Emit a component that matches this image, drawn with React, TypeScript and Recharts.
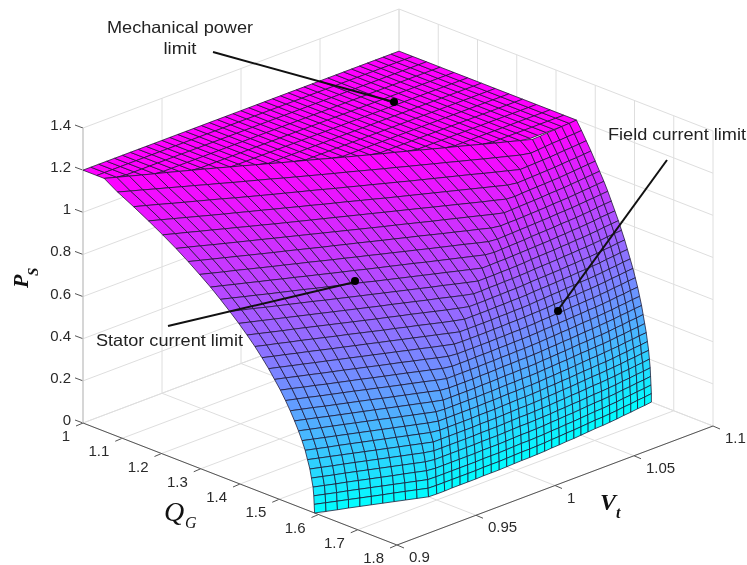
import React from "react";
import { ScatterChart, Scatter, XAxis, YAxis } from "recharts";

// Terminal voltage of each mesh column
const vtValues = [0.9,0.905,0.91,0.915,0.92,0.925,0.93,0.935,0.94,0.945,0.95,0.955,0.96,0.965,0.97,0.975,0.98,0.985,0.99,0.995,1,1.005,1.01,1.015,1.02,1.025,1.03,1.035,1.04,1.045,1.05,1.055,1.06,1.065,1.07,1.075,1.08,1.085,1.09,1.095,1.1];
// Active power of each mesh row on the capability faces
const psValues = [0,0.04,0.08,0.12,0.16,0.2,0.24,0.28,0.32,0.36,0.4,0.44,0.48,0.52,0.56,0.6,0.64,0.68,0.72,0.76,0.8,0.84,0.88,0.92,0.96,1,1.04,1.08,1.12,1.16,1.2];
// QG (thousandths) read per row (psValues) and column (vtValues)
const qgMilli = [
[1590,1599,1608,1616,1625,1634,1643,1652,1661,1670,1679,1680,1680,1679,1679,1679,1679,1678,1678,1678,1677,1676,1675,1675,1674,1673,1671,1670,1668,1667,1665,1663,1661,1660,1658,1656,1653,1651,1648,1646,1643],
[1589,1598,1607,1616,1625,1634,1643,1651,1660,1669,1678,1679,1679,1679,1679,1679,1679,1678,1678,1678,1677,1676,1675,1675,1674,1673,1671,1670,1668,1667,1665,1663,1661,1660,1658,1656,1653,1651,1648,1646,1643],
[1588,1597,1606,1614,1623,1632,1641,1650,1659,1668,1677,1678,1678,1678,1678,1678,1678,1677,1677,1677,1676,1675,1674,1674,1673,1672,1670,1669,1667,1666,1664,1662,1660,1659,1657,1655,1652,1650,1647,1645,1642],
[1586,1595,1604,1612,1621,1630,1639,1648,1656,1665,1674,1677,1677,1677,1677,1677,1677,1676,1676,1676,1675,1674,1673,1673,1672,1671,1669,1668,1666,1665,1663,1661,1659,1658,1656,1654,1651,1649,1646,1644,1641],
[1582,1591,1600,1608,1617,1626,1635,1644,1653,1662,1671,1675,1675,1675,1675,1675,1675,1674,1674,1674,1673,1672,1671,1671,1670,1669,1668,1666,1665,1663,1662,1660,1658,1657,1655,1653,1650,1648,1645,1643,1640],
[1578,1587,1596,1604,1613,1622,1631,1640,1649,1658,1667,1673,1673,1673,1673,1673,1673,1672,1672,1672,1671,1670,1669,1669,1668,1667,1666,1664,1663,1661,1660,1658,1656,1655,1653,1651,1648,1646,1643,1641,1638],
[1572,1581,1590,1599,1608,1617,1626,1635,1644,1653,1662,1671,1671,1671,1671,1671,1671,1670,1670,1670,1669,1668,1667,1667,1666,1665,1663,1662,1660,1659,1657,1655,1653,1652,1650,1648,1646,1643,1641,1638,1636],
[1566,1575,1584,1592,1601,1610,1619,1628,1637,1646,1655,1664,1668,1668,1668,1668,1668,1667,1667,1667,1666,1665,1664,1664,1663,1662,1660,1659,1657,1656,1654,1652,1651,1649,1648,1646,1643,1641,1638,1636,1633],
[1558,1567,1576,1585,1594,1603,1612,1621,1630,1639,1648,1657,1664,1664,1664,1664,1664,1664,1663,1663,1662,1661,1661,1660,1660,1659,1657,1656,1654,1653,1651,1649,1647,1646,1644,1642,1640,1637,1635,1632,1630],
[1549,1558,1567,1576,1585,1594,1603,1612,1622,1631,1640,1649,1658,1660,1660,1660,1660,1660,1659,1659,1658,1657,1657,1656,1656,1655,1653,1652,1650,1649,1647,1645,1644,1642,1641,1639,1636,1634,1631,1629,1626],
[1539,1548,1557,1567,1576,1585,1594,1603,1612,1621,1630,1639,1648,1656,1656,1656,1656,1656,1655,1655,1654,1653,1653,1652,1652,1651,1649,1648,1646,1645,1643,1641,1640,1638,1637,1635,1632,1630,1627,1625,1622],
[1528,1537,1546,1556,1565,1574,1583,1592,1602,1611,1620,1629,1638,1648,1651,1651,1651,1651,1650,1650,1649,1648,1648,1647,1647,1646,1645,1643,1642,1640,1639,1637,1635,1634,1632,1630,1628,1625,1623,1620,1618],
[1516,1525,1534,1544,1553,1562,1571,1581,1590,1600,1609,1618,1627,1637,1645,1645,1645,1645,1645,1644,1644,1643,1643,1642,1642,1641,1640,1638,1637,1635,1634,1632,1630,1629,1627,1625,1623,1620,1618,1615,1613],
[1503,1512,1522,1531,1541,1550,1559,1568,1578,1587,1596,1605,1615,1624,1634,1639,1639,1639,1638,1638,1638,1637,1637,1636,1636,1635,1634,1632,1631,1629,1628,1626,1625,1623,1622,1620,1618,1615,1613,1610,1608],
[1488,1497,1507,1516,1526,1535,1544,1554,1563,1573,1582,1591,1601,1610,1620,1629,1632,1632,1632,1632,1632,1631,1631,1630,1630,1629,1628,1626,1625,1623,1622,1620,1619,1617,1616,1614,1612,1609,1607,1604,1602],
[1473,1482,1492,1501,1511,1520,1530,1539,1549,1558,1568,1577,1587,1596,1606,1615,1624,1625,1625,1625,1625,1624,1624,1623,1623,1622,1621,1620,1619,1617,1616,1614,1613,1611,1610,1608,1606,1603,1601,1598,1596],
[1456,1466,1475,1485,1494,1504,1514,1523,1533,1542,1552,1561,1571,1580,1590,1599,1609,1618,1618,1618,1618,1618,1617,1617,1616,1616,1615,1613,1612,1610,1609,1607,1606,1604,1603,1601,1599,1596,1594,1591,1589],
[1438,1448,1457,1467,1476,1486,1496,1506,1515,1525,1535,1545,1554,1564,1573,1583,1593,1602,1610,1610,1610,1610,1609,1609,1608,1608,1607,1605,1604,1603,1602,1600,1599,1597,1596,1594,1592,1589,1587,1584,1582],
[1418,1428,1438,1448,1457,1467,1477,1487,1497,1507,1517,1527,1536,1546,1555,1565,1575,1585,1594,1602,1602,1602,1601,1601,1600,1600,1599,1597,1596,1595,1594,1593,1591,1590,1588,1587,1585,1582,1580,1577,1575],
[1397,1407,1417,1427,1437,1447,1457,1467,1477,1487,1497,1507,1517,1526,1536,1546,1556,1565,1575,1585,1593,1593,1592,1592,1591,1591,1590,1589,1587,1586,1585,1584,1582,1581,1579,1578,1576,1574,1571,1569,1567],
[1374,1384,1394,1405,1415,1425,1435,1445,1456,1466,1476,1486,1496,1506,1516,1526,1536,1546,1555,1565,1575,1584,1584,1584,1583,1583,1582,1581,1579,1578,1577,1576,1574,1573,1571,1570,1568,1566,1563,1561,1559],
[1350,1360,1371,1381,1392,1402,1412,1422,1433,1443,1453,1463,1473,1484,1494,1504,1514,1524,1534,1544,1554,1564,1574,1574,1573,1573,1572,1571,1570,1569,1568,1567,1565,1564,1562,1561,1559,1557,1554,1552,1550],
[1325,1335,1346,1356,1367,1377,1388,1398,1409,1419,1430,1440,1450,1461,1471,1481,1491,1501,1512,1522,1532,1542,1552,1562,1565,1564,1563,1562,1561,1559,1558,1557,1556,1554,1553,1552,1550,1548,1545,1543,1541],
[1297,1308,1319,1329,1340,1351,1362,1372,1383,1393,1404,1415,1425,1436,1446,1457,1467,1478,1488,1499,1509,1519,1529,1540,1550,1553,1552,1551,1550,1549,1548,1547,1546,1544,1543,1542,1540,1538,1536,1534,1532],
[1268,1279,1290,1301,1312,1323,1334,1345,1355,1366,1377,1388,1398,1409,1419,1430,1441,1451,1462,1472,1483,1494,1504,1515,1525,1536,1541,1540,1540,1539,1538,1537,1536,1534,1533,1532,1530,1528,1526,1524,1522],
[1237,1248,1259,1271,1282,1293,1304,1315,1326,1337,1348,1359,1370,1381,1392,1403,1414,1425,1435,1446,1457,1468,1478,1489,1499,1510,1521,1530,1529,1528,1527,1526,1525,1523,1522,1521,1519,1517,1515,1513,1511],
[1203,1215,1226,1238,1249,1261,1272,1284,1295,1307,1318,1329,1340,1351,1362,1373,1384,1395,1406,1417,1428,1439,1450,1461,1472,1483,1494,1504,1515,1517,1515,1514,1513,1512,1511,1510,1508,1506,1504,1502,1500],
[1167,1179,1191,1203,1215,1227,1239,1250,1262,1273,1285,1296,1308,1319,1331,1342,1353,1365,1376,1388,1399,1410,1421,1432,1443,1454,1465,1476,1487,1498,1503,1502,1501,1500,1499,1498,1496,1494,1493,1491,1489],
[1129,1141,1153,1166,1178,1190,1202,1214,1227,1239,1251,1263,1274,1286,1297,1309,1321,1332,1344,1355,1367,1378,1390,1401,1412,1423,1434,1445,1457,1468,1479,1490,1489,1488,1487,1486,1484,1482,1481,1479,1477],
[1088,1101,1113,1126,1138,1151,1163,1176,1188,1201,1213,1225,1237,1250,1262,1274,1286,1298,1309,1321,1333,1345,1356,1368,1379,1391,1402,1414,1425,1437,1448,1459,1470,1477,1475,1473,1471,1470,1468,1467,1465],
[1054,1066,1078,1090,1102,1113,1125,1137,1149,1161,1174,1186,1199,1211,1224,1236,1248,1260,1273,1285,1297,1309,1321,1332,1344,1356,1368,1380,1391,1403,1415,1427,1438,1450,1461,1460,1458,1457,1455,1454,1452],
];
// Plateau rows run at constant QG and stop at the crease
const plateauQg = [1,1.035,1.07,1.105,1.14,1.175,1.21,1.245,1.28,1.315,1.35,1.385,1.42,1.455];
const mechanicalLimit = 1.2;

const qgTicks = [1,1.1,1.2,1.3,1.4,1.5,1.6,1.7,1.8];
const vtTicks = [0.9,0.95,1,1.05,1.1];
const psTicks = [0,0.2,0.4,0.6,0.8,1,1.2,1.4];

// Orthographic view of the three axes
const toX = (q: number, v: number) => 83 + (q - 1) * 392.5 + (v - 0.9) * 1580;
const toY = (q: number, v: number, p: number) => 423 + (q - 1) * 152.5 - (v - 0.9) * 595 - p * 210.7;
const at = (q: number, v: number, p: number) => ({ x: toX(q, v), y: toY(q, v, p) });

const seg = (a: any, b: any, stroke: string, width = 1) => ({ x: a.x, y: a.y, dx: b.x - a.x, dy: b.y - a.y, stroke, width });

const GRID = "#dedede";
const AXIS = "#555555";
const gridSegs: any[] = [];
for (const p of psTicks) {
  gridSegs.push(seg(at(1, 0.9, p), at(1, 1.1, p), GRID));
  gridSegs.push(seg(at(1, 1.1, p), at(1.8, 1.1, p), GRID));
  gridSegs.push(seg(at(1, 0.9, p), { x: toX(1, 0.9) - 8, y: toY(1, 0.9, p) - 3 }, AXIS));
}
for (const q of qgTicks) {
  gridSegs.push(seg(at(q, 0.9, 0), at(q, 1.1, 0), GRID));
  gridSegs.push(seg(at(q, 1.1, 0), at(q, 1.1, 1.4), GRID));
  gridSegs.push(seg(at(q, 0.9, 0), { x: toX(q, 0.9) - 7, y: toY(q, 0.9, 0) + 3 }, AXIS));
}
for (const v of vtTicks) {
  gridSegs.push(seg(at(1, v, 0), at(1.8, v, 0), GRID));
  gridSegs.push(seg(at(1, v, 0), at(1, v, 1.4), GRID));
  gridSegs.push(seg(at(1.8, v, 0), { x: toX(1.8, v) + 7, y: toY(1.8, v, 0) + 3 }, AXIS));
}
gridSegs.push(seg(at(1, 0.9, 0), at(1, 0.9, 1.4), "#bdbdbd"));
gridSegs.push(seg(at(1, 0.9, 0), at(1.8, 0.9, 0), AXIS));
gridSegs.push(seg(at(1.8, 0.9, 0), at(1.8, 1.1, 0), AXIS));

// Cool colour map
const cool = (p: number) => {
  const t = Math.min(1, Math.max(0, p / mechanicalLimit));
  return `rgb(${Math.round(255 * t)},${Math.round(255 * (1 - t))},255)`;
};

const cell = (c: number[][], p: number) => {
  const a = at(c[0][0], c[0][1], c[0][2]);
  return {
    x: a.x,
    y: a.y,
    pts: c.map((n) => [toX(n[0], n[1]) - a.x, toY(n[0], n[1], n[2]) - a.y]),
    fill: cool(p),
  };
};

const cells: any[] = [];
const edge = qgMilli[qgMilli.length - 1];
for (let r = 0; r < plateauQg.length - 1; r++) {
  for (let j = 0; j < vtValues.length - 1; j++) {
    const e0 = edge[j] / 1000;
    const e1 = edge[j + 1] / 1000;
    if (plateauQg[r] >= e0 && plateauQg[r] >= e1) continue;
    cells.push(cell([
      [Math.min(plateauQg[r], e0), vtValues[j], mechanicalLimit],
      [Math.min(plateauQg[r], e1), vtValues[j + 1], mechanicalLimit],
      [Math.min(plateauQg[r + 1], e1), vtValues[j + 1], mechanicalLimit],
      [Math.min(plateauQg[r + 1], e0), vtValues[j], mechanicalLimit],
    ], mechanicalLimit));
  }
}
for (let i = psValues.length - 2; i >= 0; i--) {
  for (let j = 0; j < vtValues.length - 1; j++) {
    const p0 = psValues[i + 1];
    const p1 = psValues[i];
    cells.push(cell([
      [qgMilli[i + 1][j] / 1000, vtValues[j], p0],
      [qgMilli[i + 1][j + 1] / 1000, vtValues[j + 1], p0],
      [qgMilli[i][j + 1] / 1000, vtValues[j + 1], p1],
      [qgMilli[i][j] / 1000, vtValues[j], p1],
    ], (p0 + p1) / 2));
  }
}

const callouts = [
  { x: 213, y: 52, dx: 181, dy: 50 },
  { x: 168, y: 326, dx: 187, dy: -44 },
  { x: 667, y: 160, dx: -109, dy: 150 },
].map((c) => ({ ...c, stroke: "#111111", width: 2 }));

const SANS = "'Liberation Sans', Arial, sans-serif";
const SERIF = "'Liberation Serif', 'Times New Roman', serif";
const TICK = { size: 15, family: SANS, fill: "#2a2a2a" };
const fmt = (n: number) => String(n);

const labels: any[] = [
  ...psTicks.map((p) => ({ ...TICK, x: toX(1, 0.9) - 12, y: toY(1, 0.9, p) + 2, text: fmt(p), anchor: "end" })),
  ...qgTicks.map((q) => ({ ...TICK, x: toX(q, 0.9) - 13, y: toY(q, 0.9, 0) + 18, text: fmt(q), anchor: "end" })),
  ...vtTicks.map((v) => ({ ...TICK, x: toX(1.8, v) + 12, y: toY(1.8, v, 0) + 17, text: fmt(v), anchor: "start" })),
  { x: 180, y: 33, text: "Mechanical power", anchor: "middle", size: 16.5, family: SANS, fill: "#222", len: 146 },
  { x: 180, y: 54, text: "limit", anchor: "middle", size: 16.5, family: SANS, fill: "#222", len: 33 },
  { x: 96, y: 346, text: "Stator current limit", anchor: "start", size: 16.5, family: SANS, fill: "#222", len: 147 },
  { x: 608, y: 140, text: "Field current limit", anchor: "start", size: 16.5, family: SANS, fill: "#222", len: 138 },
  { x: 28, y: 288, text: "P", anchor: "start", size: 22, family: SERIF, style: "italic", weight: 700, fill: "#111", rot: -90 },
  { x: 38, y: 276, text: "S", anchor: "start", size: 15, family: SERIF, style: "italic", weight: 700, fill: "#111", rot: -90 },
  { x: 164, y: 521, text: "Q", anchor: "start", size: 28, family: SERIF, style: "italic", weight: 400, fill: "#111" },
  { x: 185, y: 528, text: "G", anchor: "start", size: 16, family: SERIF, style: "italic", weight: 400, fill: "#111" },
  { x: 600, y: 510, text: "V", anchor: "start", size: 24, family: SERIF, style: "italic", weight: 700, fill: "#111" },
  { x: 616, y: 518, text: "t", anchor: "start", size: 16, family: SERIF, style: "italic", weight: 700, fill: "#111" },
];

const dots = [{ x: 394, y: 102 }, { x: 355, y: 281 }, { x: 558, y: 311 }];

const SegShape = (props: any) => {
  const { cx, cy, payload: d } = props;
  return <line x1={cx} y1={cy} x2={cx + d.dx} y2={cy + d.dy} stroke={d.stroke} strokeWidth={d.width} />;
};
const CellShape = (props: any) => {
  const { cx, cy, payload: d } = props;
  const points = d.pts.map((n: number[]) => `${(cx + n[0]).toFixed(2)},${(cy + n[1]).toFixed(2)}`).join(" ");
  return <polygon points={points} fill={d.fill} stroke="#1b1430" strokeWidth={0.75} strokeLinejoin="round" />;
};
const DotShape = (props: any) => <circle cx={props.cx} cy={props.cy} r={4} fill="#000" />;
const TextShape = (props: any) => {
  const { cx, cy, payload: d } = props;
  return (
    <text
      x={cx}
      y={cy}
      textAnchor={d.anchor}
      fontSize={d.size}
      fontFamily={d.family}
      fontStyle={d.style}
      fontWeight={d.weight}
      fill={d.fill}
      textLength={d.len}
      lengthAdjust={d.len ? "spacingAndGlyphs" : undefined}
      transform={d.rot ? `rotate(${d.rot} ${cx} ${cy})` : undefined}
    >
      {d.text}
    </text>
  );
};

export default function App() {
  return (
    <div style={{ position: "absolute", left: 0, top: 0, width: 747, height: 565, background: "#fff", filter: "blur(0.45px)" }}>
      <ScatterChart width={747} height={565} margin={{ top: 0, right: 0, bottom: 0, left: 0 }}>
        <XAxis type="number" dataKey="x" domain={[0, 747]} hide allowDataOverflow />
        <YAxis type="number" dataKey="y" domain={[0, 565]} reversed hide allowDataOverflow width={0} />
        <Scatter data={gridSegs} shape={SegShape} isAnimationActive={false} />
        <Scatter data={cells} shape={CellShape} isAnimationActive={false} />
        <Scatter data={callouts} shape={SegShape} isAnimationActive={false} />
        <Scatter data={dots} shape={DotShape} isAnimationActive={false} />
        <Scatter data={labels} shape={TextShape} isAnimationActive={false} />
      </ScatterChart>
    </div>
  );
}
